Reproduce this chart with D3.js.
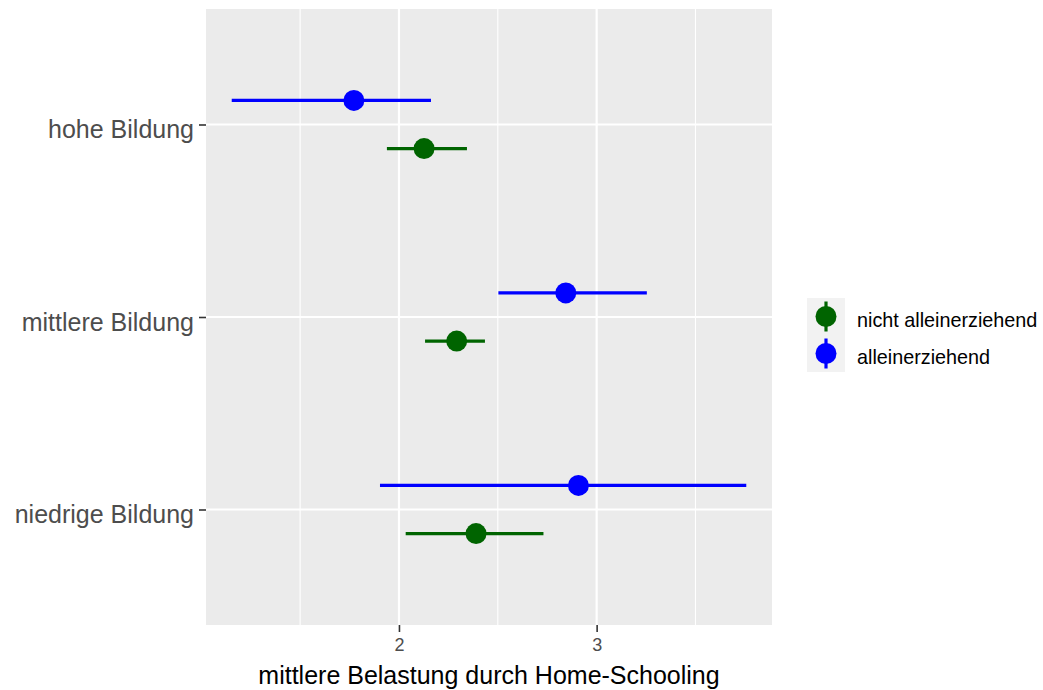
<!DOCTYPE html>
<html><head><meta charset="utf-8">
<script src="https://cdn.jsdelivr.net/npm/d3@7"></script>
<style>body{margin:0;background:#fff;} text{font-family:"Liberation Sans",Arial,sans-serif;}</style>
</head><body>
<svg id="chart" width="1043" height="690"></svg>
<script>
const categories = ["hohe Bildung", "mittlere Bildung", "niedrige Bildung"];
const groups = ["nicht alleinerziehend", "alleinerziehend"];
const groupColors = ["#006400", "#0000FF"];
const meanNicht  = [2.127, 2.292, 2.390];
const lowerNicht = [1.939, 2.132, 2.034];
const upperNicht = [2.344, 2.435, 2.731];
const meanAllein  = [1.772, 2.844, 2.908];
const lowerAllein = [1.154, 2.503, 1.904];
const upperAllein = [2.162, 3.254, 3.757];
const xTicks = [2, 3];
const xMinor = [1.5, 2.5, 3.5];
const xTitle = "mittlere Belastung durch Home-Schooling";

const rows = [];
categories.forEach((c, i) => {
  rows.push({cat: c, group: 0, mean: meanNicht[i], lo: lowerNicht[i], hi: upperNicht[i]});
  rows.push({cat: c, group: 1, mean: meanAllein[i], lo: lowerAllein[i], hi: upperAllein[i]});
});

const svg = d3.select("#chart");
const P = {left: 206, right: 772, top: 9, bottom: 625};

const allVals = rows.flatMap(r => [r.lo, r.hi]);
const lo = d3.min(allVals), hi = d3.max(allVals), pad = (hi - lo) * 0.05;
const x = d3.scaleLinear().domain([lo - pad, hi + pad]).range([P.left, P.right]);
const y = d3.scalePoint().domain(categories).range([P.top, P.bottom]).padding(0.6);
const dodge = y.step() * 0.125;
const offset = g => g === 1 ? -dodge : dodge;

// panel
svg.append("rect").attr("x", P.left).attr("y", P.top)
  .attr("width", P.right - P.left).attr("height", P.bottom - P.top).attr("fill", "#EBEBEB");

// grid
svg.append("g").selectAll("line").data(xMinor).join("line")
  .attr("x1", d => x(d)).attr("x2", d => x(d)).attr("y1", P.top).attr("y2", P.bottom)
  .attr("stroke", "#fff").attr("stroke-width", 1.1);
svg.append("g").selectAll("line").data(xTicks).join("line")
  .attr("x1", d => x(d)).attr("x2", d => x(d)).attr("y1", P.top).attr("y2", P.bottom)
  .attr("stroke", "#fff").attr("stroke-width", 2.2);
svg.append("g").selectAll("line").data(categories).join("line")
  .attr("x1", P.left).attr("x2", P.right).attr("y1", d => y(d)).attr("y2", d => y(d))
  .attr("stroke", "#fff").attr("stroke-width", 2.2);

// axes
const xAxis = svg.append("g").attr("transform", `translate(0,${P.bottom})`)
  .call(d3.axisBottom(x).tickValues(xTicks).tickFormat(d3.format("d")).tickSize(7).tickPadding(4));
xAxis.select(".domain").remove();
xAxis.selectAll(".tick line").attr("stroke", "#333").attr("stroke-width", 1.6);
xAxis.selectAll(".tick text").attr("fill", "#4D4D4D").attr("font-size", "18px")
  .attr("font-family", "Liberation Sans, Arial, sans-serif").attr("dy", "0.72em").attr("y", 13);

const yAxis = svg.append("g").attr("transform", `translate(${P.left},0)`)
  .call(d3.axisLeft(y).tickSize(7).tickPadding(5));
yAxis.select(".domain").remove();
yAxis.selectAll(".tick line").attr("stroke", "#333").attr("stroke-width", 1.6);
yAxis.selectAll(".tick text").attr("fill", "#4D4D4D").attr("font-size", "25px")
  .attr("font-family", "Liberation Sans, Arial, sans-serif").attr("dy", null).attr("y", 13).attr("x", -12);

// x title
svg.append("text").attr("x", (P.left + P.right) / 2).attr("y", 684)
  .attr("text-anchor", "middle").attr("font-size", "25px").attr("fill", "#000").text(xTitle);

// marks
const marks = svg.append("g");
marks.selectAll("line.err").data(rows).join("line").attr("class", "err")
  .attr("x1", d => x(d.lo)).attr("x2", d => x(d.hi))
  .attr("y1", d => y(d.cat) + offset(d.group)).attr("y2", d => y(d.cat) + offset(d.group))
  .attr("stroke", d => groupColors[d.group]).attr("stroke-width", 3.2);
marks.selectAll("circle").data(rows).join("circle")
  .attr("cx", d => x(d.mean)).attr("cy", d => y(d.cat) + offset(d.group)).attr("r", 10.5)
  .attr("fill", d => groupColors[d.group]);

// legend
const L = {x: 807, y: 298, w: 38, h: 37};
const leg = svg.append("g");
leg.append("rect").attr("x", L.x).attr("y", L.y).attr("width", L.w).attr("height", L.h * groups.length)
  .attr("fill", "#F2F2F2");
groups.forEach((g, i) => {
  const cy = L.y + L.h * i + L.h / 2;
  const cx = L.x + L.w / 2;
  leg.append("line").attr("x1", cx).attr("x2", cx).attr("y1", cy - 15).attr("y2", cy + 15)
    .attr("stroke", groupColors[i]).attr("stroke-width", 3.2);
  leg.append("circle").attr("cx", cx).attr("cy", cy).attr("r", 10.5).attr("fill", groupColors[i]);
  leg.append("text").attr("x", 857).attr("y", cy + 10.5).attr("font-size", "19.8px")
    .attr("fill", "#000").text(g);
});
</script>
</body></html>
